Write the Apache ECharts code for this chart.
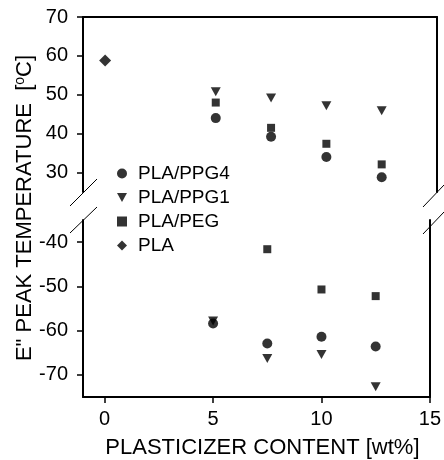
<!DOCTYPE html>
<html><head><meta charset="utf-8">
<script src="https://cdn.jsdelivr.net/npm/echarts@6/dist/echarts.min.js"></script>
<style>html,body{margin:0;padding:0;background:#fff}#c{width:444px;height:460px}</style>
</head><body><div id="c"></div>
<script>
var xValues = [5, 7.5, 10, 12.5];
var plaX = [0];
var ppg4Upper = [44, 39.2, 34, 28.8];
var ppg1Upper = [50.8, 49.2, 47.2, 45.9];
var pegUpper = [48, 41.5, 37.4, 32.1];
var plaUpper = [58.8];
var ppg4Lower = [-58.4, -62.9, -61.4, -63.6];
var ppg1Lower = [-57.8, -66.3, -65.4, -72.7];
var pegLower = [null, -41.6, -50.7, -52.2];
var xTicks = [0, 5, 10, 15];
var upperTicks = [30, 40, 50, 60, 70];
var lowerTicks = [-70, -60, -50, -40];
var names = ['PLA/PPG4', 'PLA/PPG1', 'PLA/PEG', 'PLA'];

function pairs(xs, ys) { return xs.map(function (x, i) { return [x, ys[i]]; }).filter(function (p) { return p[1] != null; }); }

var FONT = 'Liberation Sans, Arial, sans-serif';
var lineStyle = { color: '#000', width: 2 };
var triDown = 'path://M0,0 L10,0 L5,9 Z';
var sym = { 'PLA/PPG4': ['circle', 10], 'PLA/PPG1': [triDown, [10, 9]], 'PLA/PEG': ['rect', 8], 'PLA': ['diamond', [12, 12]] };

function sc(name, xi, yi, data) {
  return { type: 'scatter', name: name, xAxisIndex: xi, yAxisIndex: yi, data: data,
    symbol: sym[name][0], symbolSize: sym[name][1], itemStyle: { color: '#000' }, emphasis: { disabled: true } };
}
var tickStyle = { color: '#000', width: 1.5 };
var labelStyle = { fontSize: 20, color: '#000', fontFamily: FONT };

var chart = echarts.init(document.getElementById('c'));
chart.setOption({
  animation: false,
  textStyle: { fontFamily: FONT },
  grid: [
    { left: 83, right: 7, top: 17, height: 175 },
    { left: 83, right: 7, top: 220, height: 177 }
  ],
  xAxis: [
    { gridIndex: 0, type: 'value', min: -1, max: 15, position: 'top', axisLine: { onZero: false, lineStyle: lineStyle }, axisTick: { show: false }, axisLabel: { show: false }, splitLine: { show: false } },
    { gridIndex: 1, type: 'value', min: -1, max: 15, position: 'bottom', axisLine: { onZero: false, lineStyle: lineStyle },
      axisTick: { customValues: xTicks, length: 6, lineStyle: tickStyle },
      axisLabel: Object.assign({ customValues: xTicks, margin: 12 }, labelStyle),
      splitLine: { show: false },
      name: 'PLASTICIZER CONTENT [wt%]', nameLocation: 'middle', nameGap: 40,
      nameTextStyle: { fontSize: 22, color: '#000', fontFamily: FONT, padding: [0, 0, 0, 12] } }
  ],
  yAxis: [
    { gridIndex: 0, type: 'value', min: 25, max: 70, axisLine: { show: true, onZero: false, lineStyle: lineStyle },
      axisTick: { customValues: upperTicks, length: 6, lineStyle: tickStyle },
      axisLabel: Object.assign({ customValues: upperTicks, margin: 15 }, labelStyle), splitLine: { show: false } },
    { gridIndex: 1, type: 'value', min: -75, max: -35, axisLine: { show: true, onZero: false, lineStyle: lineStyle },
      axisTick: { customValues: lowerTicks, length: 6, lineStyle: tickStyle },
      axisLabel: Object.assign({ customValues: lowerTicks, margin: 15 }, labelStyle), splitLine: { show: false } },
    { gridIndex: 0, type: 'value', min: 25, max: 70, position: 'right', axisLine: { show: true, onZero: false, lineStyle: lineStyle }, axisTick: { show: false }, axisLabel: { show: false }, splitLine: { show: false } },
    { gridIndex: 1, type: 'value', min: -75, max: -35, position: 'right', axisLine: { show: true, onZero: false, lineStyle: lineStyle }, axisTick: { show: false }, axisLabel: { show: false }, splitLine: { show: false } }
  ],
  legend: {
    data: [
      { name: 'PLA/PPG4', icon: 'circle' },
      { name: 'PLA/PPG1', icon: triDown },
      { name: 'PLA/PEG', icon: 'rect' },
      { name: 'PLA', icon: 'diamond' }
    ],
    orient: 'vertical', left: 112, top: 159, itemWidth: 10, itemHeight: 10, itemGap: 5,
    textStyle: { fontSize: 19, color: '#000', fontFamily: FONT, padding: [0, 0, 0, 6] },
    itemStyle: { color: '#000' }, selectedMode: false
  },
  graphic: [
    { type: 'line', shape: { x1: 70, y1: 206, x2: 97, y2: 179 }, style: { stroke: '#000', lineWidth: 1 } },
    { type: 'line', shape: { x1: 70, y1: 233, x2: 97, y2: 207 }, style: { stroke: '#000', lineWidth: 1 } },
    { type: 'line', shape: { x1: 423, y1: 207, x2: 444, y2: 185 }, style: { stroke: '#000', lineWidth: 1 } },
    { type: 'line', shape: { x1: 423, y1: 234, x2: 444, y2: 212 }, style: { stroke: '#000', lineWidth: 1 } },
    { type: 'text', x: 25, y: 208, rotation: Math.PI / 2,
      style: { text: 'E" PEAK TEMPERATURE  [{s|o}C]', fontSize: 22, fontFamily: FONT, fill: '#000', align: 'center', verticalAlign: 'middle',
        rich: { s: { fontSize: 14, verticalAlign: 'top', padding: [0, 0, 10, 0], fontFamily: FONT } } } }
  ],
  series: [
    sc('PLA/PPG1', 0, 0, pairs(xValues, ppg1Upper)),
    sc('PLA/PEG', 0, 0, pairs(xValues, pegUpper)),
    sc('PLA/PPG4', 0, 0, pairs(xValues, ppg4Upper)),
    sc('PLA', 0, 0, pairs(plaX, plaUpper)),
    sc('PLA/PPG1', 1, 1, pairs(xValues, ppg1Lower)),
    sc('PLA/PEG', 1, 1, pairs(xValues, pegLower)),
    sc('PLA/PPG4', 1, 1, pairs(xValues, ppg4Lower))
  ]
});
</script></body></html>
